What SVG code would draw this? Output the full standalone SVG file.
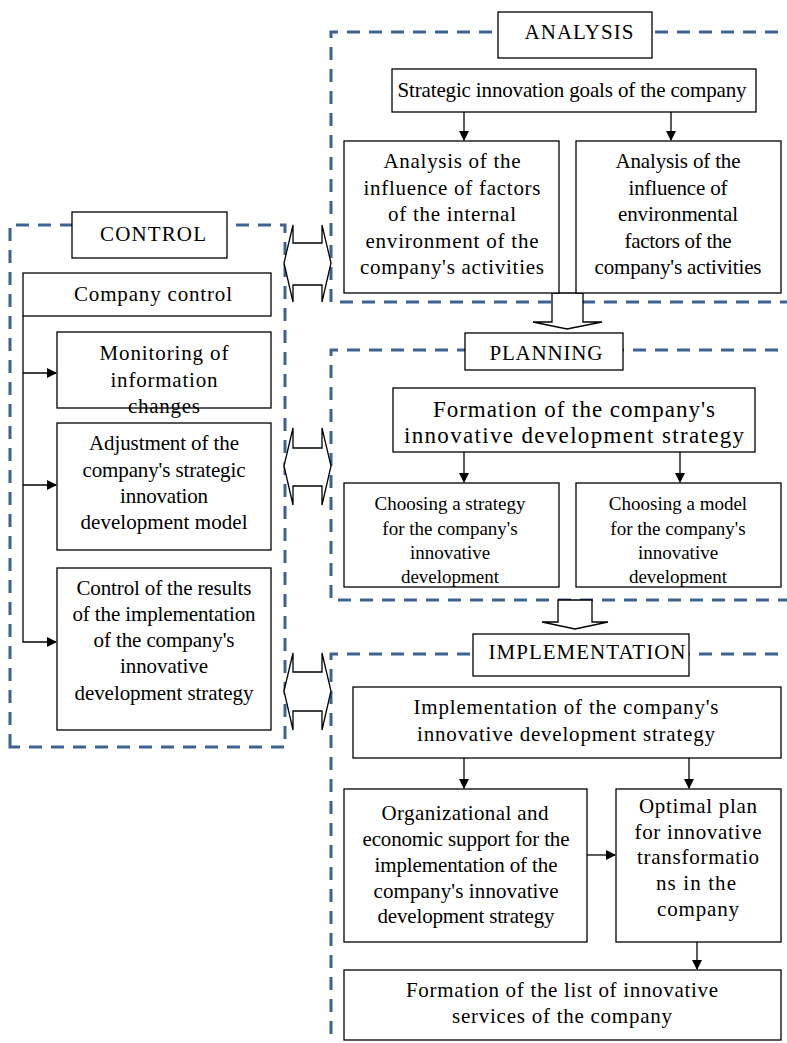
<svg xmlns="http://www.w3.org/2000/svg" width="787" height="1043" viewBox="0 0 787 1043">
<style>
.frame{fill:none;stroke:#3f6391;stroke-width:3;stroke-dasharray:13 9}
.box{fill:#fff;stroke:#000;stroke-width:1.3}
.t{font-family:"Liberation Serif","Times New Roman",serif;font-size:21px;fill:#000;text-anchor:middle}
.s{font-size:19px}
.p{font-size:23px}
.ln{fill:none;stroke:#000;stroke-width:1.3}
.big{fill:#fff;stroke:#000;stroke-width:1.3}
</style>
<defs>
<marker id="ah" markerWidth="10" markerHeight="10" refX="9" refY="5" orient="auto" markerUnits="userSpaceOnUse">
<path d="M0,0 L10,5 L0,10 z" fill="#000"/>
</marker>
</defs>
<rect width="787" height="1043" fill="#fff"/>

<g id="frames">
<path class="frame" d="M10,747 V225 H285 V747 Z"/>
<path class="frame" d="M800,32 H331 V302 H800"/>
<path class="frame" d="M800,350 H331 V600 H800"/>
<path class="frame" d="M800,654 H331 V1050"/>
</g>

<g id="connectors">
<polygon class="big" points="284,263 293,225 293,243 322,243 322,225 331,263 322,302 322,285 293,285 293,302"/>
<polygon class="big" points="284,466 293,428 293,448 322,448 322,428 331,466 322,505 322,486 293,486 293,505"/>
<polygon class="big" points="284,691 293,653 293,672 322,672 322,653 331,691 322,730 322,711 293,711 293,730"/>
<polygon class="big" points="552,293 583,293 583,322 602,322 567,329 533,322 552,322"/>
<polygon class="big" points="558,600 592,600 592,622 608,622 575,629 542,622 558,622"/>
<path class="ln" d="M464,112 V140" marker-end="url(#ah)"/>
<path class="ln" d="M671,112 V140" marker-end="url(#ah)"/>
<path class="ln" d="M23,316 V642 H56" marker-end="url(#ah)"/>
<path class="ln" d="M23,373 H56" marker-end="url(#ah)"/>
<path class="ln" d="M23,485 H56" marker-end="url(#ah)"/>
<path class="ln" d="M464,452 V482" marker-end="url(#ah)"/>
<path class="ln" d="M680,452 V482" marker-end="url(#ah)"/>
<path class="ln" d="M464,758 V788" marker-end="url(#ah)"/>
<path class="ln" d="M689,758 V788" marker-end="url(#ah)"/>
<path class="ln" d="M587,855 H615" marker-end="url(#ah)"/>
<path class="ln" d="M697,942 V969" marker-end="url(#ah)"/>
</g>

<g id="analysis-label"><rect class="box" x="498" y="12" width="154" height="46"/><text class="t" x="579" y="39" textLength="109">ANALYSIS</text></g>
<g id="goals"><rect class="box" x="392" y="69" width="364" height="43"/><text class="t" x="572" y="97" textLength="349">Strategic innovation goals of the company</text></g>
<g id="analysis-internal"><rect class="box" x="344" y="141" width="215" height="152"/>
<text class="t" x="452" y="168" textLength="137">Analysis of the</text><text class="t" x="452" y="195" textLength="177">influence of factors</text><text class="t" x="452" y="221" textLength="128">of the internal</text><text class="t" x="452" y="248" textLength="173">environment of the</text><text class="t" x="452" y="274" textLength="184">company's activities</text></g>
<g id="analysis-external"><rect class="box" x="576" y="141" width="205" height="152"/>
<text class="t" x="678" y="168" textLength="125">Analysis of the</text><text class="t" x="678" y="195" textLength="99">influence of</text><text class="t" x="678" y="221" textLength="120">environmental</text><text class="t" x="678" y="248" textLength="107">factors of the</text><text class="t" x="678" y="274" textLength="167">company's activities</text></g>

<g id="control-label"><rect class="box" x="72" y="212" width="155" height="46"/><text class="t" x="153" y="241" textLength="106">CONTROL</text></g>
<g id="company-control"><rect class="box" x="23" y="273" width="248" height="43"/><text class="t" x="153" y="301" textLength="158">Company control</text></g>
<g id="monitoring"><rect class="box" x="57" y="332" width="214" height="76"/>
<text class="t" x="164" y="360" textLength="129">Monitoring of</text><text class="t" x="164" y="387" textLength="107">information</text><text class="t" x="164" y="413" textLength="72">changes</text></g>
<g id="adjustment"><rect class="box" x="57" y="423" width="214" height="127"/>
<text class="t" x="164" y="450" textLength="150">Adjustment of the</text><text class="t" x="164" y="477" textLength="163">company's strategic</text><text class="t" x="164" y="503" textLength="88">innovation</text><text class="t" x="164" y="529" textLength="167">development model</text></g>
<g id="control-results"><rect class="box" x="57" y="568" width="214" height="162"/>
<text class="t" x="164" y="595" textLength="175">Control of the results</text><text class="t" x="164" y="621" textLength="183">of the implementation</text><text class="t" x="164" y="647" textLength="141">of the company's</text><text class="t" x="164" y="673" textLength="88">innovative</text><text class="t" x="164" y="700" textLength="179">development strategy</text></g>

<g id="planning-label"><rect class="box" x="465" y="333" width="158" height="37"/><text class="t" x="546" y="360" textLength="113">PLANNING</text></g>
<g id="formation-strategy"><rect class="box" x="393" y="388" width="362" height="64"/>
<text class="t p" x="574" y="417" textLength="282">Formation of the company's</text><text class="t p" x="574" y="443" textLength="340">innovative development strategy</text></g>
<g id="choose-strategy"><rect class="box" x="344" y="483" width="215" height="104"/>
<text class="t s" x="450" y="510">Choosing a strategy</text><text class="t s" x="450" y="535">for the company's</text><text class="t s" x="450" y="559">innovative</text><text class="t s" x="450" y="583">development</text></g>
<g id="choose-model"><rect class="box" x="576" y="483" width="205" height="104"/>
<text class="t s" x="678" y="510">Choosing a model</text><text class="t s" x="678" y="535">for the company's</text><text class="t s" x="678" y="559">innovative</text><text class="t s" x="678" y="583">development</text></g>

<g id="implementation-label"><rect class="box" x="473" y="634" width="216" height="42"/><text class="t" x="587" y="659" textLength="197">IMPLEMENTATION</text></g>
<g id="implementation"><rect class="box" x="353" y="687" width="428" height="71"/>
<text class="t" x="566" y="714" textLength="305">Implementation of the company's</text><text class="t" x="566" y="741" textLength="298">innovative development strategy</text></g>
<g id="org-support"><rect class="box" x="344" y="789" width="243" height="153"/>
<text class="t" x="465" y="820" textLength="167">Organizational and</text><text class="t" x="466" y="846" textLength="207">economic support for the</text><text class="t" x="466" y="872" textLength="183">implementation of the</text><text class="t" x="466" y="898" textLength="185">company's innovative</text><text class="t" x="466" y="923" textLength="177">development strategy</text></g>
<g id="optimal-plan"><rect class="box" x="616" y="789" width="165" height="153"/>
<text class="t" x="698" y="813" textLength="118">Optimal plan</text><text class="t" x="698" y="839" textLength="127">for innovative</text><text class="t" x="698" y="864" textLength="122">transformatio</text><text class="t" x="696" y="890" textLength="80">ns in the</text><text class="t" x="698" y="916" textLength="82">company</text></g>
<g id="services-list"><rect class="box" x="344" y="970" width="437" height="70"/>
<text class="t" x="562" y="997" textLength="312">Formation of the list of innovative</text><text class="t" x="562" y="1023" textLength="220">services of the company</text></g>
</svg>
